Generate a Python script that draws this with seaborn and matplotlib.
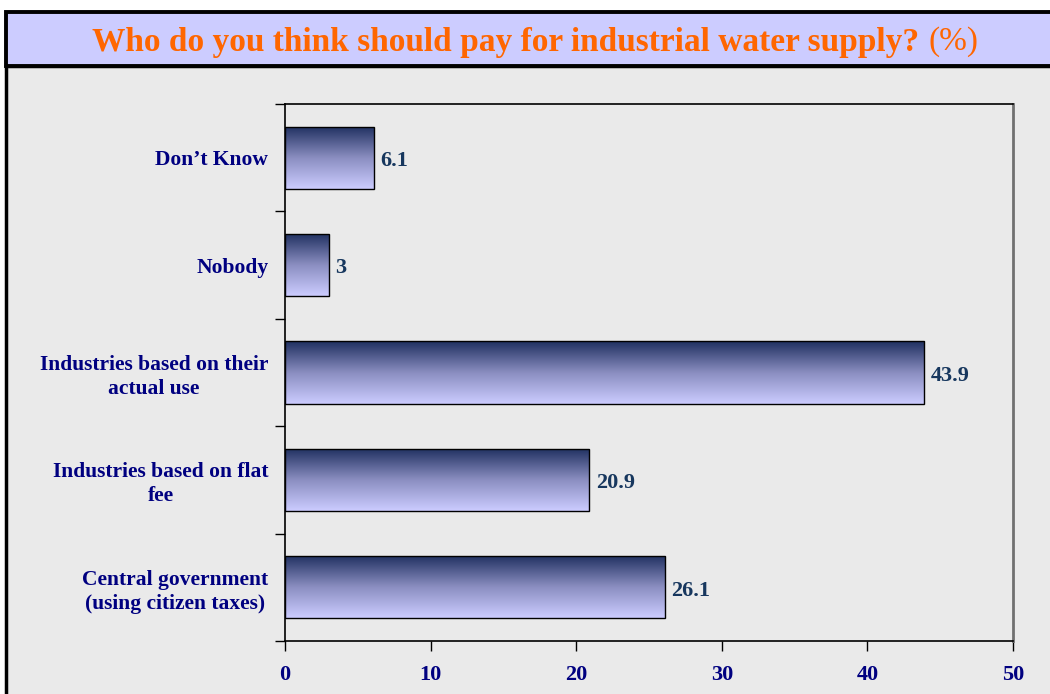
import numpy as np
import pandas as pd
import seaborn as sns
import matplotlib.pyplot as plt
from matplotlib.patches import Rectangle
from matplotlib.colors import LinearSegmentedColormap

# datos de la encuesta
categorias = ["Don\u2019t Know", "Nobody", "Industries based on their\nactual use",
              "Industries based on flat\nfee", "Central government\n(using citizen taxes)"]
valores = [6.1, 3, 43.9, 20.9, 26.1]
etiquetas = ["6.1", "3", "43.9", "20.9", "26.1"]
ticks_x = [0, 10, 20, 30, 40, 50]

df = pd.DataFrame({"categoria": categorias, "valor": valores})

sns.set_theme(style="white")
plt.rcParams['font.family'] = ['Liberation Serif', 'DejaVu Serif']

fig = plt.figure(figsize=(10.5, 6.94), dpi=100)
W, H = 1050, 694

# fondo gris y caja del titulo
fig.patches.append(Rectangle((6 / W, -0.01), 1.0, (H - 66) / H + 0.01, transform=fig.transFigure,
                             facecolor="#EAEAEA", edgecolor="black", lw=2.5, zorder=-10))
fig.patches.append(Rectangle((6 / W, (H - 66) / H), 1.0, 54 / H, transform=fig.transFigure,
                             facecolor="#CCCCFF", edgecolor="black", lw=2.8, zorder=-9))
t1 = fig.text(92 / W, (H - 42) / H, "Who do you think should pay for industrial water supply?",
              ha="left", va="center", color="#FF6600", fontsize=24, fontweight="bold")
fig.canvas.draw()
bb = t1.get_window_extent()
fig.text(bb.x1 / W + 9 / W, (H - 42) / H, "(%)", ha="left", va="center",
         color="#FF6600", fontsize=24)

ax = fig.add_axes([285 / W, 1 - 641 / H, (1013 - 285) / W, (641 - 104) / H])
ax.set_facecolor("#EAEAEA")

sns.barplot(data=df, x="valor", y="categoria", orient="h", width=0.58,
            color="#CCCCFF", edgecolor="black", linewidth=1.0, ax=ax)

# degradado en cada barra
cmap = LinearSegmentedColormap.from_list("azul", ["#1F3060", "#8A8DC0", "#CCCCFF"])
grad = np.linspace(0, 1, 256).reshape(-1, 1)
for p in ax.patches:
    x0, y0 = p.get_x(), p.get_y()
    w, h = p.get_width(), p.get_height()
    im = ax.imshow(grad, cmap=cmap, aspect="auto", extent=(x0, x0 + w, y0 + h, y0),
                   origin="upper", zorder=2)
    im.set_clip_path(p)
    p.set_zorder(3)
    p.set_facecolor("none")

for i, (v, t) in enumerate(zip(valores, etiquetas)):
    ax.text(v + 0.45, i + 0.03, t, ha="left", va="center", color="#17375E",
            fontsize=16, fontweight="bold")

ax.set_xlim(0, 50)
ax.set_ylim(4.5, -0.5)
ax.set_xticks(ticks_x)
ax.set_xticklabels([str(t) for t in ticks_x], color="#000080", fontsize=16, fontweight="bold")
ax.set_yticks(range(len(categorias)))
ax.set_yticklabels(categorias, color="#000080", fontsize=15.5, fontweight="bold",
                   multialignment="center", linespacing=1.25)
ax.set_yticks(np.arange(-0.5, 5, 1), minor=True)
ax.tick_params(axis="y", which="major", length=0, pad=12)
ax.tick_params(axis="y", which="minor", length=7, width=1, color="black", direction="out", left=True)
ax.tick_params(axis="x", which="major", length=7, width=1, color="black", direction="out",
               bottom=True, pad=10)
ax.set_xlabel("")
ax.set_ylabel("")

for s in ["left", "bottom", "top"]:
    ax.spines[s].set_color("black")
    ax.spines[s].set_linewidth(1.2)
ax.spines["right"].set_color("#707070")
ax.spines["right"].set_linewidth(2)

fig.savefig("out.png", dpi=100, facecolor="white")
